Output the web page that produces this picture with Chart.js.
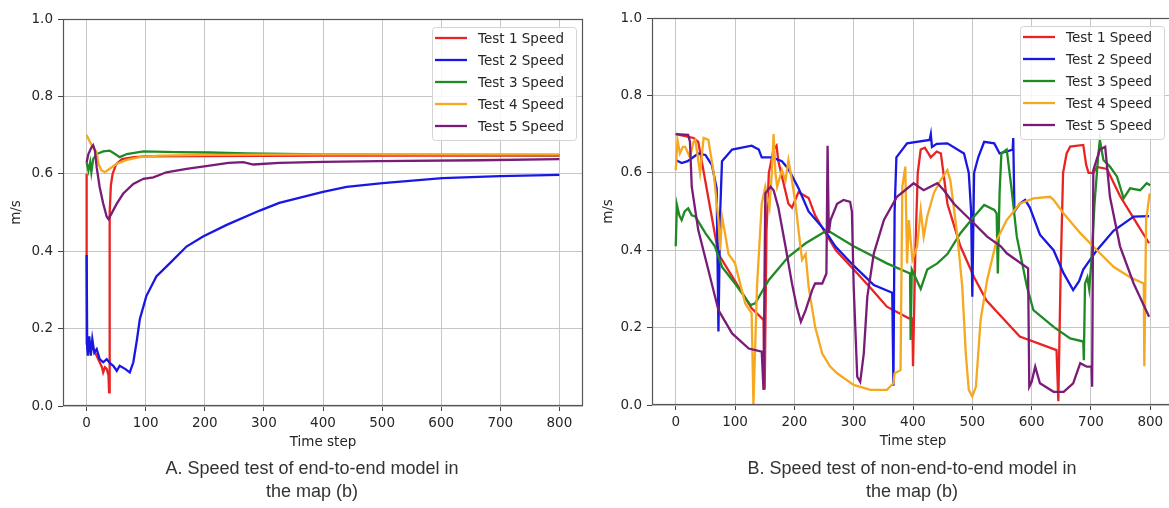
<!DOCTYPE html>
<html>
<head>
<meta charset="utf-8">
<script src="https://cdn.jsdelivr.net/npm/chart.js@4.4.1/dist/chart.umd.min.js"></script>
<style>
    html, body { margin: 0; padding: 0; background: #ffffff; overflow: hidden; width: 1169px; height: 508px; }
    .bloc { position: absolute; }
    .legende { position: absolute; font-family: "Liberation Sans", Arial, sans-serif; font-size: 18px; line-height: 23px; color: #333333; text-align: center; }
</style>
</head>
<body>
<div class="bloc" style="left:0px; top:0px; width:600px; height:460px;"><canvas id="chartA"></canvas></div>
<div class="bloc" style="left:596px; top:-1px; width:604px; height:460px;"><canvas id="chartB"></canvas></div>
<div class="legende" style="left:112px; top:457px; width:400px;">A. Speed test of end-to-end model in<br>the map (b)</div>
<div class="legende" style="left:712px; top:457px; width:400px;">B. Speed test of non-end-to-end model in<br>the map (b)</div>

<script>
// axis ticks
var xTicks = [0, 100, 200, 300, 400, 500, 600, 700, 800];
var yTicks = [0.0, 0.2, 0.4, 0.6, 0.8, 1.0];
var seriesNames = ['Test 1 Speed', 'Test 2 Speed', 'Test 3 Speed', 'Test 4 Speed', 'Test 5 Speed'];
var seriesColors = ['#e82323', '#1818e2', '#1f8a24', '#f5a820', '#781c78'];

// A: end-to-end model, [time step, m/s]
var endTest1 = [[0,0.60],[0,0.16],[3,0.15],[6,0.155],[11,0.147],[17,0.13],[22,0.113],[26,0.10],[28,0.087],[31,0.10],[34,0.096],[37,0.079],[38,0.035],[39,0.50],[41,0.57],[44,0.60],[50,0.625],[60,0.638],[80,0.643],[100,0.645],[200,0.646],[400,0.647],[600,0.647],[800,0.647]];
var endTest2 = [[0,0.39],[1,0.15],[2,0.13],[4.5,0.18],[7,0.13],[9.6,0.173],[13,0.138],[17,0.147],[22,0.121],[28,0.113],[34,0.121],[40,0.11],[45,0.104],[51,0.091],[56,0.104],[65,0.096],[73,0.087],[79,0.113],[85,0.17],[90,0.224],[101,0.284],[118,0.335],[141,0.369],[169,0.412],[197,0.438],[237,0.468],[293,0.505],[326,0.525],[400,0.553],[440,0.566],[501,0.576],[602,0.589],[699,0.594],[800,0.597]];
var endTest3 = [[0,0.63],[3,0.608],[6,0.63],[8,0.604],[11,0.638],[17,0.651],[28,0.658],[39,0.66],[48,0.651],[56,0.643],[68,0.651],[96,0.658],[152,0.656],[208,0.655],[270,0.653],[400,0.65],[600,0.649],[800,0.648]];
var endTest4 = [[0,0.70],[6,0.681],[11,0.668],[17,0.656],[20,0.626],[25,0.609],[31,0.604],[39,0.613],[51,0.626],[68,0.636],[90,0.643],[124,0.647],[200,0.649],[400,0.65],[800,0.65]];
var endTest5 = [[0,0.63],[3,0.651],[8,0.668],[11,0.674],[14,0.66],[17,0.617],[22,0.566],[28,0.523],[34,0.489],[37,0.483],[42,0.497],[51,0.523],[62,0.549],[79,0.574],[96,0.587],[113,0.591],[135,0.604],[169,0.613],[208,0.621],[240,0.628],[265,0.63],[282,0.624],[326,0.628],[400,0.631],[495,0.633],[664,0.635],[800,0.638]];

// B: non-end-to-end model, [time step, m/s]
var nonEndTest1 = [[0,0.70],[30,0.69],[38,0.68],[72,0.39],[100,0.32],[128,0.25],[148,0.22],[150,0.04],[153,0.45],[157,0.60],[165,0.66],[170,0.67],[173,0.63],[190,0.52],[196,0.51],[207,0.55],[224,0.535],[235,0.49],[252,0.445],[270,0.40],[300,0.35],[330,0.30],[356,0.254],[393,0.224],[399,0.224],[400,0.10],[404,0.40],[408,0.60],[413,0.66],[420,0.665],[430,0.64],[440,0.655],[447,0.65],[458,0.52],[480,0.41],[503,0.33],[524,0.27],[548,0.23],[580,0.177],[642,0.142],[645,0.01],[649,0.35],[653,0.60],[659,0.65],[665,0.668],[687,0.672],[692,0.62],[696,0.60],[704,0.60],[710,0.615],[727,0.61],[749,0.54],[777,0.47],[798,0.418]];
var nonEndTest2 = [[0,0.633],[10,0.625],[20,0.63],[38,0.65],[50,0.646],[61,0.62],[69,0.56],[72,0.19],[75,0.50],[78,0.63],[95,0.66],[128,0.67],[140,0.66],[145,0.64],[162,0.64],[179,0.63],[190,0.61],[207,0.56],[224,0.50],[252,0.45],[269,0.41],[300,0.36],[334,0.31],[365,0.29],[367,0.05],[369,0.50],[372,0.64],[390,0.676],[428,0.685],[430,0.70],[432,0.667],[440,0.675],[458,0.676],[486,0.65],[494,0.60],[498,0.50],[500,0.28],[503,0.60],[510,0.64],[520,0.68],[537,0.676],[546,0.65],[558,0.655],[568,0.66],[569,0.69],[571,0.50],[580,0.52],[589,0.53],[597,0.51],[614,0.44],[637,0.40],[654,0.34],[670,0.297],[680,0.32],[687,0.35],[710,0.40],[738,0.45],[772,0.487],[798,0.488]];
var nonEndTest3 = [[0,0.41],[2,0.517],[6,0.49],[10,0.478],[15,0.50],[21,0.508],[27,0.49],[33,0.487],[50,0.444],[66,0.41],[78,0.357],[100,0.314],[126,0.258],[134,0.263],[157,0.323],[190,0.383],[219,0.418],[247,0.444],[255,0.452],[300,0.41],[356,0.366],[395,0.34],[396,0.168],[398,0.35],[404,0.33],[413,0.30],[424,0.35],[441,0.366],[458,0.39],[480,0.444],[503,0.487],[520,0.517],[537,0.504],[541,0.495],[543,0.34],[546,0.55],[549,0.65],[558,0.66],[566,0.56],[575,0.435],[592,0.306],[603,0.245],[637,0.202],[665,0.172],[687,0.164],[688,0.116],[690,0.314],[694,0.33],[697,0.30],[701,0.375],[706,0.52],[712,0.64],[715,0.685],[721,0.633],[732,0.616],[744,0.59],[755,0.534],[766,0.56],[783,0.555],[794,0.573],[800,0.568]];
var nonEndTest4 = [[0,0.607],[3,0.685],[7,0.65],[12,0.667],[16,0.667],[24,0.64],[30,0.68],[33,0.685],[41,0.60],[47,0.69],[55,0.685],[64,0.60],[72,0.478],[75,0.40],[78,0.487],[83,0.444],[89,0.39],[100,0.366],[117,0.263],[128,0.237],[131,0.0],[137,0.306],[145,0.52],[151,0.564],[158,0.51],[162,0.60],[165,0.70],[168,0.60],[171,0.564],[179,0.607],[185,0.58],[190,0.633],[196,0.58],[202,0.52],[207,0.452],[213,0.375],[219,0.39],[224,0.306],[235,0.202],[247,0.133],[260,0.10],[272,0.082],[300,0.052],[328,0.039],[356,0.039],[367,0.056],[369,0.082],[379,0.09],[382,0.564],[387,0.616],[390,0.366],[393,0.478],[399,0.375],[407,0.41],[413,0.504],[418,0.435],[424,0.487],[435,0.547],[446,0.58],[458,0.607],[463,0.58],[475,0.435],[483,0.306],[489,0.133],[494,0.039],[500,0.022],[506,0.047],[514,0.22],[525,0.323],[541,0.426],[558,0.478],[580,0.52],[603,0.534],[631,0.538],[637,0.53],[654,0.495],[682,0.444],[710,0.40],[738,0.357],[766,0.33],[789,0.314],[790,0.10],[793,0.478],[799,0.547]];
var nonEndTest5 = [[0,0.70],[21,0.698],[24,0.68],[27,0.564],[38,0.452],[55,0.349],[72,0.245],[95,0.185],[123,0.146],[145,0.138],[148,0.039],[151,0.547],[160,0.564],[165,0.555],[173,0.51],[185,0.41],[196,0.314],[204,0.254],[211,0.215],[219,0.245],[230,0.297],[235,0.314],[247,0.314],[254,0.34],[256,0.67],[258,0.444],[261,0.478],[272,0.52],[283,0.53],[294,0.525],[297,0.50],[300,0.306],[306,0.073],[311,0.06],[317,0.133],[323,0.28],[334,0.392],[351,0.478],[373,0.538],[401,0.573],[418,0.555],[441,0.573],[452,0.555],[469,0.52],[497,0.478],[525,0.435],[548,0.41],[558,0.392],[594,0.353],[596,0.047],[600,0.06],[606,0.099],[614,0.056],[637,0.034],[654,0.034],[670,0.056],[682,0.108],[693,0.099],[701,0.099],[702,0.047],[704,0.607],[715,0.66],[724,0.667],[732,0.538],[749,0.41],[772,0.314],[798,0.228]];

var police = '"DejaVu Sans", Verdana, sans-serif';

// frame + legend box drawn like matplotlib
var cadreLegende = {
    id: 'cadreLegende',
    afterDatasetsDraw: function(chart) {
        var ctx = chart.ctx;
        var a = chart.chartArea;
        ctx.save();
        ctx.strokeStyle = '#555555';
        ctx.lineWidth = 1.2;
        ctx.strokeRect(a.left + 0.5, a.top + 0.5, a.right - a.left - 1, a.bottom - a.top - 1);

        var w = 144, h = 113;
        var x0 = a.right - chart.options.plugins.cadreLegende.decalage - w;
        var y0 = a.top + 8;
        ctx.beginPath();
        ctx.roundRect(x0 + 0.5, y0 + 0.5, w, h, 3);
        ctx.fillStyle = 'rgba(255,255,255,0.85)';
        ctx.fill();
        ctx.strokeStyle = '#d4d4d4';
        ctx.lineWidth = 1;
        ctx.stroke();

        ctx.font = '13.5px ' + police;
        ctx.textBaseline = 'middle';
        chart.data.datasets.forEach(function(ds, i) {
            var y = y0 + 11 + i * 22;
            ctx.beginPath();
            ctx.moveTo(x0 + 3, y);
            ctx.lineTo(x0 + 35, y);
            ctx.strokeStyle = ds.borderColor;
            ctx.lineWidth = 2.3;
            ctx.stroke();
            ctx.fillStyle = '#262626';
            ctx.fillText(ds.label, x0 + 46, y + 1);
        });
        ctx.restore();
    }
};

function graphique(idCanvas, series, largeurY, titrePadding, decalage, padDroite) {
    var datasets = series.map(function(pts, i) {
        return {
            label: seriesNames[i],
            data: pts.map(function(p) { return { x: p[0], y: p[1] }; }),
            borderColor: seriesColors[i],
            borderWidth: 2.3,
            pointRadius: 0,
            tension: 0,
            fill: false,
            order: series.length - i   // matplotlib: last series on top
        };
    });

    return new Chart(document.getElementById(idCanvas), {
        type: 'line',
        data: { datasets: datasets },
        options: {
            responsive: true,
            maintainAspectRatio: false,
            animation: false,
            layout: { padding: { top: 19, right: padDroite, bottom: 0, left: 0 } },
            plugins: {
                legend: { display: false },
                tooltip: { enabled: false },
                cadreLegende: { decalage: decalage }
            },
            scales: {
                x: {
                    type: 'linear',
                    min: -40,
                    max: 840,
                    afterBuildTicks: function(scale) {
                        scale.ticks = xTicks.map(function(v) { return { value: v }; });
                    },
                    afterFit: function(scale) { scale.height = 54; },
                    ticks: { color: '#262626', font: { family: police, size: 13.5 }, padding: 4, maxRotation: 0, autoSkip: false },
                    grid: { color: '#c6c6c6', lineWidth: 1, tickColor: '#444444', tickLength: 5 },
                    border: { display: false },
                    title: { display: true, text: 'Time step', color: '#262626', font: { family: police, size: 13.5 }, padding: { top: 0, bottom: 9 } }
                },
                y: {
                    type: 'linear',
                    min: 0,
                    max: 1,
                    afterBuildTicks: function(scale) {
                        scale.ticks = yTicks.map(function(v) { return { value: v }; });
                    },
                    afterFit: function(scale) { scale.width = largeurY; },
                    ticks: {
                        color: '#262626', font: { family: police, size: 13.5 }, padding: 5,
                        callback: function(v) { return Number(v).toFixed(1); }
                    },
                    grid: { color: '#c6c6c6', lineWidth: 1, tickColor: '#444444', tickLength: 5 },
                    border: { display: false },
                    title: { display: true, text: 'm/s', color: '#262626', font: { family: police, size: 13.5 }, padding: { top: titrePadding, bottom: 0 } }
                }
            }
        },
        plugins: [cadreLegende]
    });
}

graphique('chartA', [endTest1, endTest2, endTest3, endTest4, endTest5], 63, 8, 7, 17);
graphique('chartB', [nonEndTest1, nonEndTest2, nonEndTest3, nonEndTest4, nonEndTest5], 56, 4, 10, 26);
</script>
</body>
</html>
